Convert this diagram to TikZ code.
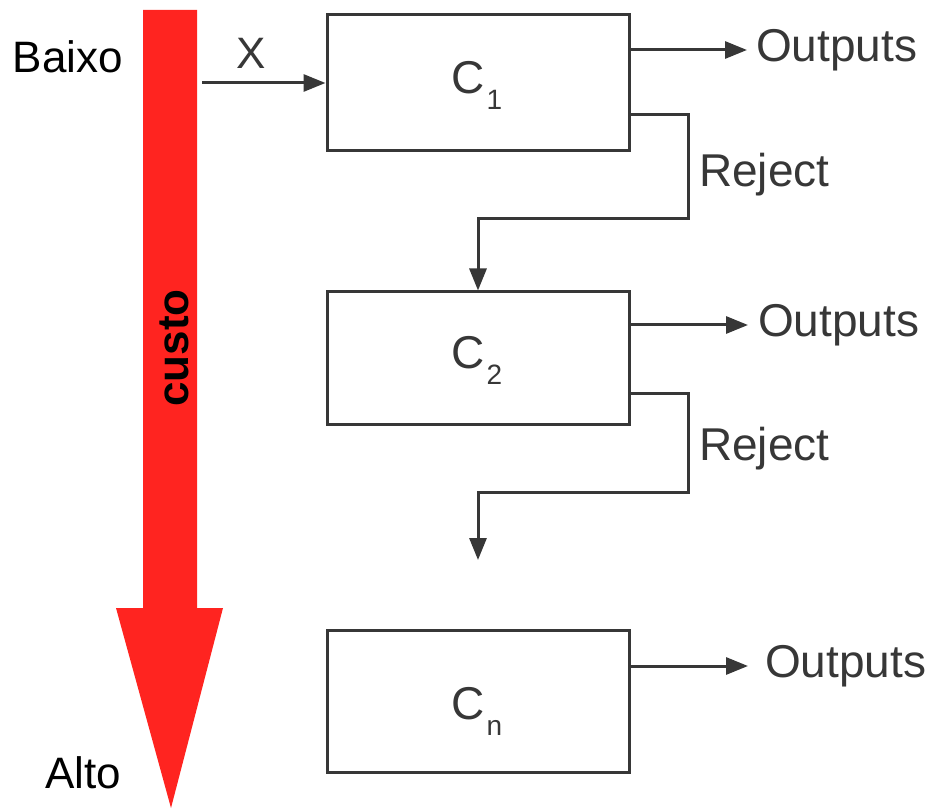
\documentclass[tikz,border=0pt]{standalone}
\usepackage{fontspec}
\setmainfont{Liberation Sans}
\usetikzlibrary{arrows.meta}
\definecolor{costred}{RGB}{255,36,32}
\definecolor{ink}{RGB}{55,55,55}
\newcommand{\csub}[1]{C\rlap{\hspace{2pt}\raisebox{-16pt}{\smash{\fontsize{28}{28}\selectfont #1}}}}
\begin{document}
\begin{tikzpicture}[x=1pt,y=-1pt,
  box/.style={draw=ink,line width=3pt,fill=white,inner sep=0pt,minimum width=302pt},
  clabel/.style={font=\fontsize{46}{50}\selectfont,text=ink,inner sep=0pt},
  conn/.style={draw=ink,line width=3pt,-{Triangle[length=22pt,width=17pt]}},
  lbl/.style={font=\fontsize{44}{50}\selectfont,text=ink,inner sep=0pt},
  outl/.style={font=\fontsize{46}{50}\selectfont,text=ink,inner sep=0pt},
  side/.style={font=\fontsize{44}{50}\selectfont,text=black,inner sep=0pt}]
\useasboundingbox (0,0) rectangle (932,810);
% cost arrow
\fill[costred] (143,10) -- (197,10) -- (197,608) -- (223,608) -- (171,808) -- (116,608) -- (143,608) -- cycle;
\node[side,font=\fontsize{44}{50}\selectfont\bfseries,rotate=90] (custo) at (174,348) {custo};
\node[side] (baixo) at (68,57) {Baixo};
\node[side] (alto) at (83,773) {Alto};
% boxes
\node[box,minimum height=136pt] (C1) at (478,83) {};
\node[box,minimum height=132pt] (C2) at (478,358) {};
\node[box,minimum height=142pt] (Cn) at (478,701) {};
\node[clabel] (L1) at (468,85) {\csub{1}};
\node[clabel] (L2) at (468,360) {\csub{2}};
\node[clabel] (Ln) at (468,711) {\csub{n}};
% input
\coordinate (xin) at (202,83);
\node[lbl] (X) at (251,53) {X};
\draw[conn] (xin) -- (C1.west);
% outputs
\node[outl,anchor=west] (O1) at (756,50) {Outputs};
\node[outl,anchor=west] (O2) at (758,325) {Outputs};
\node[outl,anchor=west] (On) at (765,666) {Outputs};
\draw[conn,shorten >=9pt] ([yshift=33pt]C1.east) -- (C1.east |- O1.west) -- (O1.west);
\draw[conn,shorten >=10pt] (C2.east |- O2.west) -- (O2.west);
\draw[conn,shorten >=17pt] (Cn.east |- On.west) -- (On.west);
% rejects
\coordinate (j1) at (688,219);
\coordinate (j2) at (688,492);
\coordinate (e2) at (478,560);
\draw[conn] ([yshift=-32pt]C1.east) -| (j1) -| (C2.north);
\draw[conn] ([yshift=-35pt]C2.east) -| (j2) -| (e2);
\node[outl,anchor=west] (R1) at (699,175) {Reject};
\node[outl,anchor=west] (R2) at (699,449) {Reject};
\end{tikzpicture}
\end{document}
